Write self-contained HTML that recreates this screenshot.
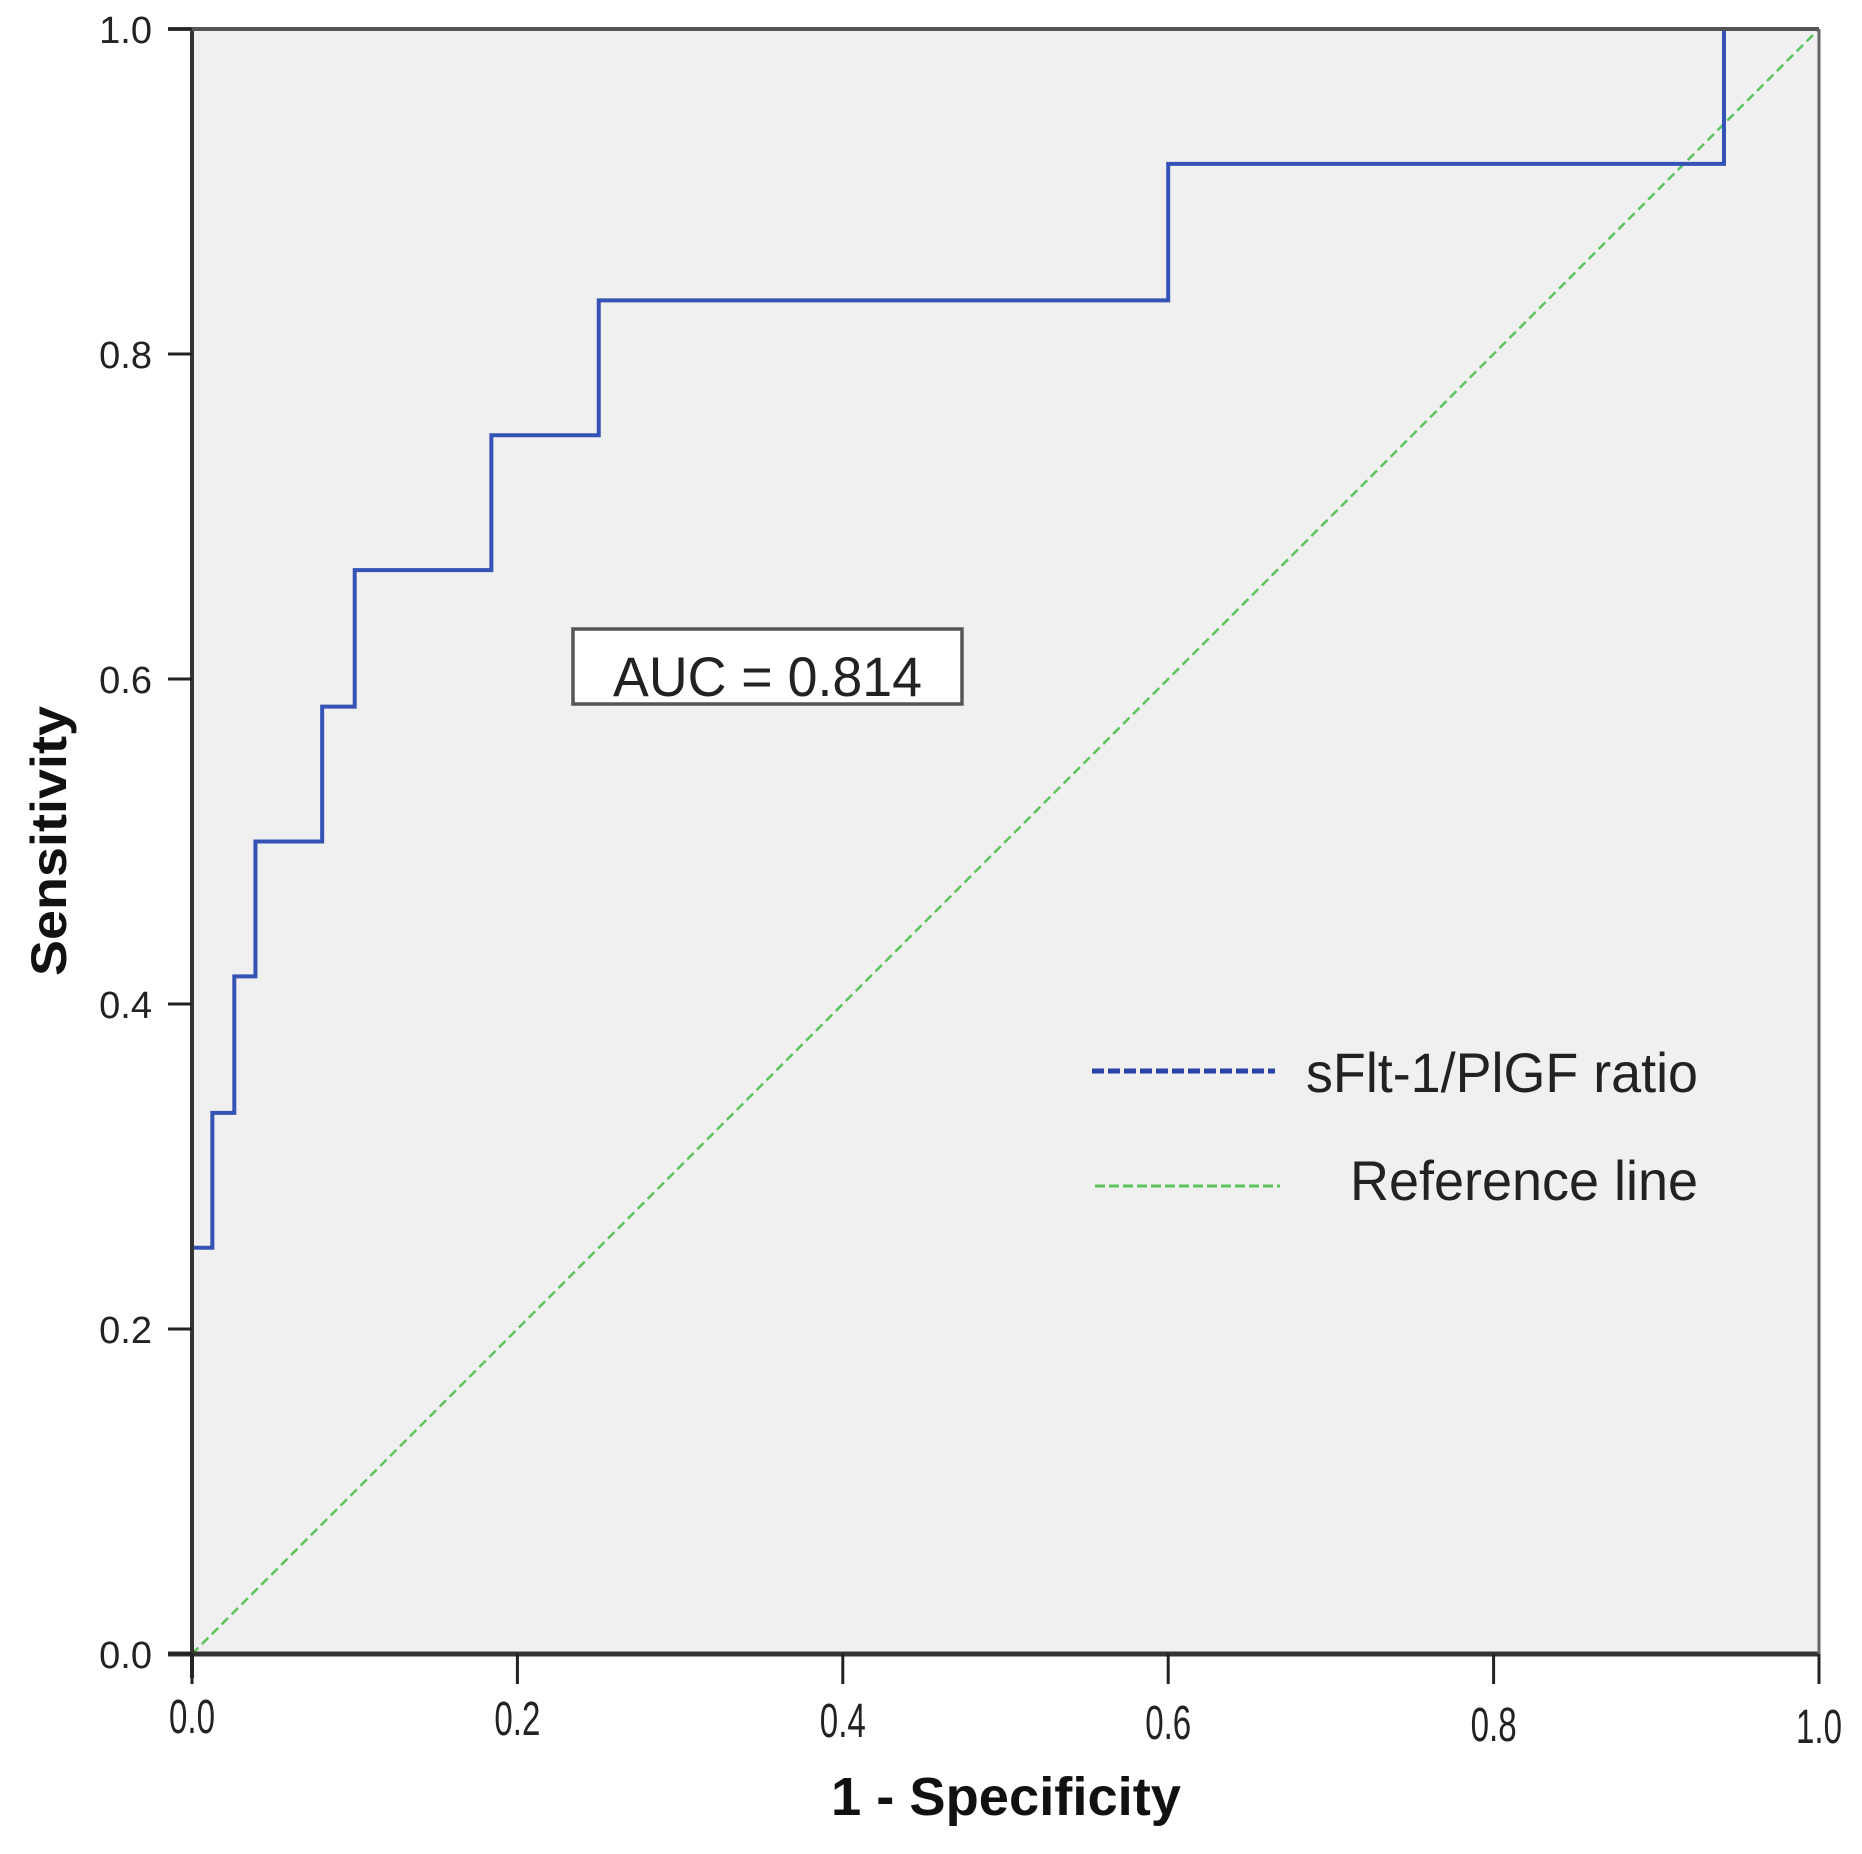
<!DOCTYPE html>
<html><head><meta charset="utf-8"><style>
html,body{margin:0;padding:0;background:#fff;}
svg{display:block;font-family:"Liberation Sans",sans-serif;}
</style></head><body>
<svg id="chart" width="1862" height="1854" viewBox="0 0 1862 1854">
  <rect x="192" y="29" width="1627" height="1625" fill="#f0f0f0"/>
  <line id="refline" stroke="#5cc45c" stroke-width="2.5" stroke-dasharray="9,5"/>
  <path id="roc" fill="none" stroke="#3553b5" stroke-width="4"/>
  <g id="axes"></g>
  <g>
    <rect x="573" y="629" width="389" height="75" fill="#fff" stroke="#555" stroke-width="3.5"/>
    <text x="613" y="696" font-size="56" fill="#222" textLength="309" lengthAdjust="spacingAndGlyphs">AUC = 0.814</text>
  </g>
  <g>
    <line x1="1092" y1="1071" x2="1275" y2="1071" stroke="#2a44a8" stroke-width="5" stroke-dasharray="12,4"/>
    <text x="1306" y="1092" font-size="56" fill="#222" textLength="392" lengthAdjust="spacingAndGlyphs">sFlt-1/PlGF ratio</text>
    <line x1="1095" y1="1186" x2="1280" y2="1186" stroke="#5cc45c" stroke-width="3" stroke-dasharray="10,4"/>
    <text x="1350" y="1200" font-size="56" fill="#222" textLength="348" lengthAdjust="spacingAndGlyphs">Reference line</text>
  </g>
  <text x="1006" y="1815" font-size="54" font-weight="bold" fill="#111" text-anchor="middle" textLength="350" lengthAdjust="spacingAndGlyphs">1 - Specificity</text>
  <text transform="translate(66,841) rotate(-90)" font-size="50" font-weight="bold" fill="#111" text-anchor="middle" textLength="270" lengthAdjust="spacingAndGlyphs">Sensitivity</text>
</svg>
<script>
const rocFpr = [0, 0, 0.0125, 0.0125, 0.026, 0.026, 0.039, 0.039, 0.08, 0.08, 0.1, 0.1, 0.184, 0.184, 0.25, 0.25, 0.6, 0.6, 0.9416, 0.9416, 1.0];
const rocTpr = [0, 0.25, 0.25, 0.333, 0.333, 0.417, 0.417, 0.5, 0.5, 0.583, 0.583, 0.667, 0.667, 0.75, 0.75, 0.833, 0.833, 0.917, 0.917, 1.0, 1.0];
const xTicks = [0, 0.2, 0.4, 0.6, 0.8, 1.0];
const yTicks = [0, 0.2, 0.4, 0.6, 0.8, 1.0];
const tickLabels = ["0.0", "0.2", "0.4", "0.6", "0.8", "1.0"];

const X0 = 192, X1 = 1819, Y0 = 1654, Y1 = 29;
function sx(v){ return X0 + v * (X1 - X0); }
function sy(v){ return Y0 - v * (Y0 - Y1); }
const NS = "http://www.w3.org/2000/svg";

let d = "";
for (let i = 0; i < rocFpr.length; i++) d += (i ? "L" : "M") + sx(rocFpr[i]) + "," + sy(rocTpr[i]);
document.getElementById("roc").setAttribute("d", d);

const ref = document.getElementById("refline");
ref.setAttribute("x1", sx(0)); ref.setAttribute("y1", sy(0));
ref.setAttribute("x2", sx(1)); ref.setAttribute("y2", sy(1));

const axes = document.getElementById("axes");
function mk(tag, attrs){ const e = document.createElementNS(NS, tag); for (const k in attrs) e.setAttribute(k, attrs[k]); axes.appendChild(e); return e; }

const xa = mk("line", {x1: X0 - 24, y1: Y0, x2: X1, y2: Y0, stroke: "#333", "stroke-width": 5});


const ya = mk("line", {x1: X0, y1: Y1, x2: X0, y2: Y0 + 24, stroke: "#333", "stroke-width": 4});


const topb = mk("line", {x1: X0 - 24, y1: Y1, x2: X1, y2: Y1, stroke: "#555", "stroke-width": 4});


const rb = mk("line", {x1: X1, y1: Y1, x2: X1, y2: Y0, stroke: "#666", "stroke-width": 3});



xTicks.forEach((v, i) => {
  const t = mk("line", {x1: sx(v), y1: Y0, x2: sx(v), y2: Y0 + 30, stroke: "#222", "stroke-width": 3});
  
  
  const l = mk("text", {x: sx(v), y: 1733 + i * 2, "font-size": 48, fill: "#222", "text-anchor": "middle", textLength: 46, lengthAdjust: "spacingAndGlyphs"});
  l.textContent = tickLabels[i];
  
  
});
yTicks.forEach((v, i) => {
  const t = mk("line", {x1: X0 - 24, y1: sy(v), x2: X0, y2: sy(v), stroke: "#222", "stroke-width": 3});
  
  
  const l = mk("text", {x: 152, y: sy(v) + 14, "font-size": 38, fill: "#222", "text-anchor": "end"});
  l.textContent = tickLabels[i];
  
  
});
</script>
</body></html>
